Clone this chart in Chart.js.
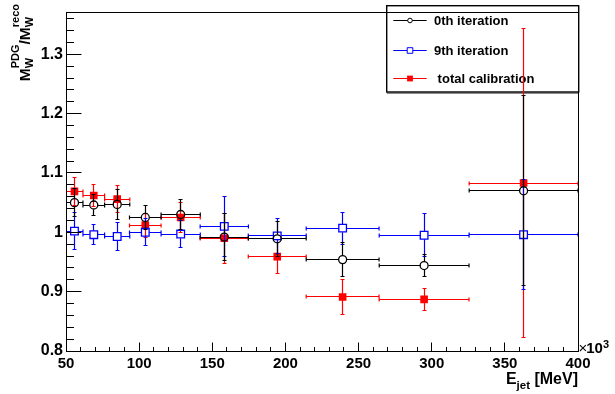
<!DOCTYPE html>
<html><head><meta charset="utf-8">
<script src="https://cdn.jsdelivr.net/npm/chart.js@4/dist/chart.umd.min.js"></script>
<style>html,body{margin:0;padding:0;background:#fff;overflow:hidden}canvas{display:block}</style>
</head><body>
<canvas id="c" width="615" height="394"></canvas>
<script>
// ---- data ----
const seriesLabels = ['0th iteration', '9th iteration', ' total calibration'];
const xValues = [55.8, 69.0, 85.0, 104.2, 128.4, 158.2, 194.4, 239.1, 294.8, 362.8];
const xErrors = [5.8, 7.4, 8.6, 10.8, 13.4, 16.5, 19.8, 24.9, 30.7, 37.2];
const iter0Values = [1.050, 1.046, 1.047, 1.025, 1.030, 0.992, 0.989, 0.954, 0.944, 1.070];
const iter0Errors = [0.024, 0.018, 0.025, 0.020, 0.025, 0.040, 0.030, 0.028, 0.018, 0.160];
const iter9Values = [1.002, 0.996, 0.993, 1.000, 0.997, 1.010, 0.994, 1.007, 0.995, 0.996];
const iter9Errors = [0.031, 0.017, 0.023, 0.023, 0.023, 0.050, 0.030, 0.027, 0.036, 0.093];
const totalValues = [1.069, 1.062, 1.056, 1.012, 1.025, 0.990, 0.959, 0.891, 0.887, 1.083];
const totalErrors = [0.024, 0.019, 0.023, 0.020, 0.025, 0.042, 0.029, 0.030, 0.018, 0.260];
const xTickValues = [50, 100, 150, 200, 250, 300, 350, 400];
const xTickLabels = ['50', '100', '150', '200', '250', '300', '350', '400'];
const yTickValues = [0.8, 0.9, 1.0, 1.1, 1.2, 1.3];
const yTickLabels = ['0.8', '0.9', '1', '1.1', '1.2', '1.3'];
const xRange = [50, 400];
const yRange = [0.8, 1.3702];

// ---- styles ----
const FONT = 'Liberation Sans, Arial, Helvetica, sans-serif';
const seriesValues = [iter0Values, iter9Values, totalValues];
const seriesErrors = [iter0Errors, iter9Errors, totalErrors];
const seriesStyle = [
  { color: '#000000', pointStyle: 'circle', fill: 'rgba(0,0,0,0)', radius: 4, half: 4, open: true, legHalf: 2.3 },
  { color: '#0000ff', pointStyle: 'rect', fill: 'rgba(0,0,0,0)', radius: 5.4, half: 3.8, open: true, legHalf: 2.8 },
  { color: '#ff0000', pointStyle: 'rect', fill: '#ff0000', radius: 5.4, half: 3.8, open: false, legHalf: 2.9 }
];

const crisp = v => Math.round(v - 0.5) + 0.5;

const errorBarPlugin = {
  id: 'errbars',
  beforeDatasetDraw(chart, args) {
    const i = args.index;
    const st = seriesStyle[i];
    const vals = seriesValues[i], errs = seriesErrors[i];
    const xs = chart.scales.x, ys = chart.scales.y, ctx = chart.ctx, ca = chart.chartArea;
    ctx.save();
    ctx.beginPath();
    ctx.rect(ca.left, ca.top, ca.right - ca.left, ca.bottom - ca.top);
    ctx.clip();
    ctx.strokeStyle = st.color;
    ctx.lineWidth = 1.2;
    const gap = st.open ? st.half : 0;
    const cap = 2;
    ctx.beginPath();
    for (let j = 0; j < xValues.length; j++) {
      const px = crisp(xs.getPixelForValue(xValues[j]));
      const py = crisp(ys.getPixelForValue(vals[j]));
      const xl = xs.getPixelForValue(xValues[j] - xErrors[j]);
      const xr = xs.getPixelForValue(xValues[j] + xErrors[j]);
      const yt = ys.getPixelForValue(vals[j] + errs[j]);
      const yb = ys.getPixelForValue(vals[j] - errs[j]);
      ctx.moveTo(xl, py); ctx.lineTo(px - gap, py);
      ctx.moveTo(px + gap, py); ctx.lineTo(xr, py);
      ctx.moveTo(px, yt); ctx.lineTo(px, py - gap);
      ctx.moveTo(px, py + gap); ctx.lineTo(px, yb);
      ctx.moveTo(xl, py - cap); ctx.lineTo(xl, py + cap);
      ctx.moveTo(xr, py - cap); ctx.lineTo(xr, py + cap);
      ctx.moveTo(px - cap, crisp(yt)); ctx.lineTo(px + cap, crisp(yt));
      ctx.moveTo(px - cap, crisp(yb)); ctx.lineTo(px + cap, crisp(yb));
    }
    ctx.stroke();
    ctx.restore();
  }
};

function drawMarker(ctx, st, x, y, h) {
  ctx.beginPath();
  if (st.pointStyle === 'circle') ctx.arc(x, y, h, 0, Math.PI * 2);
  else ctx.rect(x - h, y - h, 2 * h, 2 * h);
  if (!st.open) { ctx.fillStyle = st.fill; ctx.fill(); }
  else { ctx.strokeStyle = st.color; ctx.lineWidth = 1; ctx.stroke(); }
}

const legendPlugin = {
  id: 'rootLegend',
  beforeDatasetsDraw(chart) {
    const ctx = chart.ctx;
    ctx.save();
    ctx.fillStyle = '#8a8a8a';
    ctx.fillRect(387, 92.5, 192, 1.5);
    ctx.fillStyle = '#ffffff';
    ctx.fillRect(387, 6, 191.5, 86);
    ctx.strokeStyle = '#000';
    ctx.lineWidth = 1.4;
    ctx.strokeRect(386.7, 5.7, 192, 86.3);
    const rowsY = [20.7, 50.7, 78.7];
    const baseY = [25.2, 55.2, 83.2];
    for (let i = 0; i < 3; i++) {
      const st = seriesStyle[i];
      const y = crisp(rowsY[i]);
      const mx = 410;
      ctx.strokeStyle = st.color;
      ctx.lineWidth = 1;
      ctx.beginPath();
      const g = st.open ? st.legHalf : 0;
      ctx.moveTo(393.3, y); ctx.lineTo(mx - g, y);
      ctx.moveTo(mx + g, y); ctx.lineTo(426.7, y);
      ctx.stroke();
      drawMarker(ctx, st, mx, y, st.legHalf);
      ctx.fillStyle = '#000';
      ctx.font = 'bold 13px ' + FONT;
      ctx.textAlign = 'left';
      ctx.textBaseline = 'alphabetic';
      ctx.fillText(seriesLabels[i], 434, baseY[i]);
    }
    ctx.restore();
  }
};

function richWidth(ctx, parts) {
  let w = 0;
  for (const p of parts) {
    ctx.font = 'bold ' + p.f + 'px ' + FONT;
    if (p.t !== undefined) { w += ctx.measureText(p.t).width; }
    else {
      const a = p.sub ? ctx.measureText(p.sub).width : 0;
      const b = p.sup ? ctx.measureText(p.sup).width : 0;
      w += Math.max(a, b);
    }
  }
  return w;
}
function drawRich(ctx, parts, x0, subOff, supOff) {
  let x = x0;
  ctx.textAlign = 'left';
  ctx.textBaseline = 'alphabetic';
  for (const p of parts) {
    ctx.font = 'bold ' + p.f + 'px ' + FONT;
    if (p.t !== undefined) { ctx.fillText(p.t, x, 0); x += ctx.measureText(p.t).width; }
    else {
      let a = 0, b = 0;
      if (p.sub) { ctx.fillText(p.sub, x, subOff); a = ctx.measureText(p.sub).width; }
      if (p.sup) { ctx.fillText(p.sup, x, supOff); b = ctx.measureText(p.sup).width; }
      x += Math.max(a, b);
    }
  }
}

const framePlugin = {
  id: 'rootFrame',
  afterDatasetsDraw(chart) {
    const ctx = chart.ctx, ca = chart.chartArea, xs = chart.scales.x, ys = chart.scales.y;
    ctx.save();
    ctx.strokeStyle = '#000';
    ctx.lineWidth = 1;
    const L = crisp(ca.left), R = crisp(ca.right), T = crisp(ca.top), B = crisp(ca.bottom);
    ctx.strokeRect(L, T, R - L, B - T);
    ctx.beginPath();
    for (let v = xRange[0]; v <= xRange[1] + 1e-9; v += 10) {
      const px = crisp(xs.getPixelForValue(v));
      const major = xTickValues.some(t => Math.abs(t - v) < 1e-6);
      const len = major ? 9 : 4.5;
      ctx.moveTo(px, B); ctx.lineTo(px, B - len);
    }
    for (let k = 0; ; k++) {
      const v = yRange[0] + k * 0.02;
      if (v > yRange[1] + 1e-9) break;
      const py = crisp(ys.getPixelForValue(v));
      const major = yTickValues.some(t => Math.abs(t - v) < 1e-6);
      const len = major ? 15 : 7.5;
      ctx.moveTo(L, py); ctx.lineTo(L + len, py);
    }
    ctx.stroke();
    ctx.restore();
  },
  afterDraw(chart) {
    const ctx = chart.ctx;
    ctx.save();
    ctx.fillStyle = '#000';
    const yParts = [
      { t: 'M', f: 15.5 }, { sub: 'W', sup: 'PDG', f: 11 }, { t: '/', f: 15.5 },
      { t: 'M', f: 15.5 }, { sub: 'W', sup: 'reco', f: 11 }
    ];
    const yw = richWidth(ctx, yParts);
    ctx.translate(29.5, 4 + yw);
    ctx.rotate(-Math.PI / 2);
    drawRich(ctx, yParts, 0, 3, -11);
    ctx.restore();
    ctx.save();
    ctx.fillStyle = '#000';
    const xParts = [{ t: 'E', f: 16 }, { sub: 'jet', f: 11.5 }, { t: ' [MeV]', f: 16 }];
    const xw = richWidth(ctx, xParts);
    ctx.translate(578 - xw, 384.3);
    drawRich(ctx, xParts, 0, 5, 0);
    ctx.restore();
    ctx.save();
    ctx.fillStyle = '#000';
    ctx.textBaseline = 'alphabetic';
    ctx.font = '15px ' + FONT;
    ctx.fillText('\u00d7', 578.5, 353.3);
    const w1 = ctx.measureText('\u00d7').width;
    ctx.font = 'bold 15px ' + FONT;
    ctx.fillText('10', 578.5 + w1 - 1, 353.3);
    const w2 = ctx.measureText('10').width;
    ctx.font = 'bold 11px ' + FONT;
    ctx.fillText('3', 578.5 + w1 - 1 + w2, 348.3);
    ctx.restore();
  }
};

const datasets = seriesLabels.map((lab, i) => ({
  label: lab,
  data: xValues.map((x, j) => ({ x: x, y: seriesValues[i][j] })),
  showLine: false,
  pointStyle: seriesStyle[i].pointStyle,
  pointRadius: seriesStyle[i].radius,
  pointHoverRadius: seriesStyle[i].radius,
  pointBackgroundColor: seriesStyle[i].fill,
  pointBorderColor: seriesStyle[i].color,
  pointBorderWidth: seriesStyle[i].open ? 1.3 : 0,
  borderColor: seriesStyle[i].color,
  backgroundColor: seriesStyle[i].fill
}));

new Chart(document.getElementById('c'), {
  type: 'scatter',
  data: { datasets: datasets },
  options: {
    responsive: false,
    devicePixelRatio: 1,
    animation: false,
    layout: { padding: { left: 0, top: 6, right: 37, bottom: 0 } },
    plugins: { legend: { display: false }, tooltip: { enabled: false } },
    events: [],
    scales: {
      x: {
        type: 'linear', min: xRange[0], max: xRange[1],
        grid: { display: false, drawTicks: false }, border: { display: false },
        afterBuildTicks: s => { s.ticks = xTickValues.map(v => ({ value: v })); },
        afterFit: s => { s.height = 43; },
        ticks: {
          autoSkip: false, maxRotation: 0, padding: 4, color: '#000',
          font: { family: FONT, weight: 'bold', size: 15 },
          callback: (v, idx) => xTickLabels[idx]
        }
      },
      y: {
        type: 'linear', min: yRange[0], max: yRange[1],
        grid: { display: false, drawTicks: false }, border: { display: false },
        afterBuildTicks: s => { s.ticks = yTickValues.map(v => ({ value: v })); },
        afterFit: s => { s.width = 66; },
        ticks: {
          autoSkip: false, padding: 3, color: '#000',
          font: { family: FONT, weight: 'bold', size: 16 },
          callback: (v, idx) => yTickLabels[idx]
        }
      }
    }
  },
  plugins: [legendPlugin, errorBarPlugin, framePlugin]
});
</script>
</body></html>
